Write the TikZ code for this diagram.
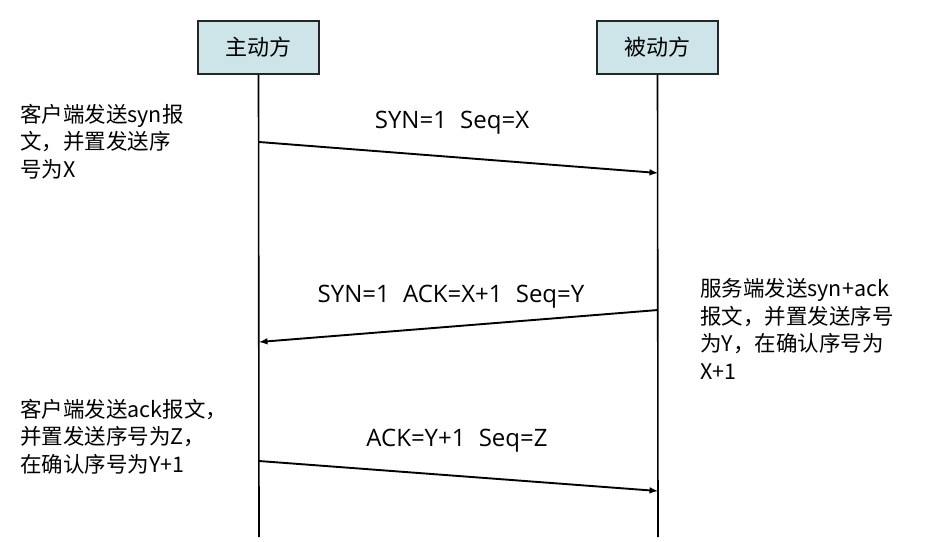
\documentclass[tikz,border=0pt]{standalone}
\usepackage{fontspec}
\setmainfont{Noto Sans CJK SC}
\newfontfamily\latinfont{Open Sans}
\usepackage{tikz}
\usetikzlibrary{arrows}
\definecolor{boxblue}{RGB}{205,229,233}

\begin{document}
\begin{tikzpicture}[x=1pt,y=-1pt]

  %Styles for picture
  \tikzset
  {
  party/.style={rectangle, draw=black!85, line width=1.8pt, fill=boxblue, inner sep=0pt, minimum width=121pt, minimum height=53pt, font=\fontsize{22}{26}\selectfont},
  lifeline/.style={line width=1.6pt},
  msg/.style={->, >=latex, line width=1.9pt},
  msglabel/.style={anchor=base, inner sep=0pt, font=\latinfont\fontsize{24}{28}\selectfont},
  note/.style={anchor=base west, align=left, inner sep=0pt, font=\fontsize{21.5}{27.5}\selectfont},
  }

  \useasboundingbox (0,0) rectangle (925,541);

  %Nodes
  \node[party] (client) at (258.5,47.5) {主动方};
  \node[party] (server) at (657.5,47.5) {被动方};
  \coordinate (cend) at (259,537);
  \coordinate (send) at (658,537);

  \coordinate (c1) at (259,142);
  \coordinate (s1) at (658,173);
  \coordinate (s2) at (658,310);
  \coordinate (c2) at (259,342);
  \coordinate (c3) at (259,461);
  \coordinate (s3) at (658,491);

  \node[msglabel] (l1) at (452,128) {SYN=1\hspace{0.55em}Seq=X};
  \node[msglabel] (l2) at (451,302) {SYN=1\hspace{0.55em}ACK=X+1\hspace{0.55em}Seq=Y};
  \node[msglabel] (l3) at (457,446) {ACK=Y+1\hspace{0.55em}Seq=Z};

  % base of a note is its last line
  \node[note] (n1) at (20,177) {客户端发送syn报\\文，并置发送序\\号为X};
  \node[note] (n2) at (700,379) {服务端发送syn+ack\\报文，并置发送序号\\为Y，在确认序号为\\X+1};
  \node[note] (n3) at (20,472) {客户端发送ack报文，\\并置发送序号为Z，\\在确认序号为Y+1};

  %Edges
  \draw[lifeline] (client.south) -- (cend);
  \draw[lifeline] (server.south) -- (send);
  \draw[msg] (c1) -- (s1);
  \draw[msg] (s2) -- (c2);
  \draw[msg] (c3) -- (s3);
\end{tikzpicture}
\end{document}
